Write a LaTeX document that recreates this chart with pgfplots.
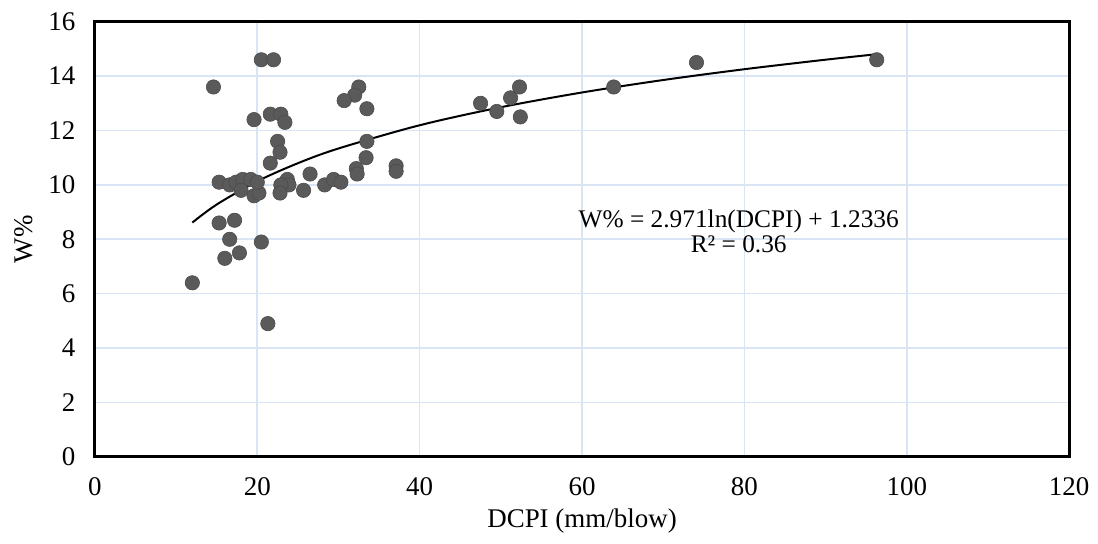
\documentclass[border={4pt 2pt 1pt 3pt}]{standalone}
\usepackage{fontspec}
\setmainfont{Liberation Serif}
\usepackage{pgfplots}
\pgfplotsset{compat=1.18}

\definecolor{gridblue}{RGB}{217,228,244}
\definecolor{dotgray}{RGB}{90,90,90}

\begin{document}
\begin{tikzpicture}
\begin{axis}[
    width=488pt, height=218pt,
    scale only axis,
    xmin=0, xmax=120, ymin=0, ymax=16,
    xtick={0,20,...,120}, ytick={0,2,...,16},
    grid=major,
    major grid style={gridblue, line width=0.8pt},
    axis line style={black, line width=1.5pt},
    tick style={draw=none},
    /pgf/number format/assume math mode=true,
    tick label style={font=\fontsize{13.5}{16}\selectfont},
    xticklabel style={yshift=-6.8pt},
    yticklabel style={xshift=-6.3pt},
    xlabel={DCPI (mm/blow)},
    ylabel={W\%},
    label style={font=\fontsize{13.5}{16}\selectfont},
    xlabel style={at={(axis description cs:0.5,-0.147)}, anchor=center},
    ylabel style={at={(axis description cs:-0.073,0.5)}, anchor=center},
    clip=false,
]
\addplot[only marks, mark=*, mark size=3.6pt,
    mark options={fill=dotgray, draw=dotgray!85!black, line width=0.3pt}]
coordinates {
 (20.5,14.6) (22.0,14.6) (14.6,13.6) (19.6,12.4) (21.6,12.6) (22.9,12.6)
 (23.4,12.3) (22.5,11.6) (22.8,11.2) (21.6,10.8) (32.5,13.6) (32.0,13.3)
 (30.7,13.1) (33.5,12.8) (33.5,11.6) (33.4,11.0) (32.2,10.6) (32.3,10.4)
 (37.1,10.7) (37.1,10.5) (26.5,10.4)
 (15.3,10.1) (16.6,10.0) (17.4,10.1) (18.2,10.2) (19.2,10.2) (18.0,9.8)
 (19.6,9.6) (20.2,9.7) (20.0,10.1) (23.7,10.2) (23.9,10.0) (22.9,10.0)
 (22.8,9.7) (25.7,9.8) (28.3,10.0) (29.4,10.2) (30.3,10.1)
 (15.3,8.6) (17.2,8.7) (16.6,8.0) (20.5,7.9) (17.8,7.5) (16.0,7.3)
 (12.0,6.4) (21.3,4.9)
 (47.5,13.0) (49.5,12.7) (51.2,13.2) (52.3,13.6) (52.4,12.5) (63.9,13.6)
 (74.1,14.5) (96.3,14.6)
};
% logarithmic trend line W% = 2.971 ln(DCPI) + 1.2336, sampled
\addplot[black, line width=1pt, smooth] coordinates {
 (12,8.616) (15,9.279) (20,10.134) (25,10.797) (30,11.339) (40,12.193)
 (50,12.856) (60,13.398) (70,13.856) (80,14.253) (90,14.603) (96.3,14.804)
};
\node[font=\fontsize{12.7}{12.5}\selectfont, align=center] at (axis cs:79.3,8.3)
  {W\% = 2.971ln(DCPI) + 1.2336\\R² = 0.36};
\end{axis}
\end{tikzpicture}
\end{document}
